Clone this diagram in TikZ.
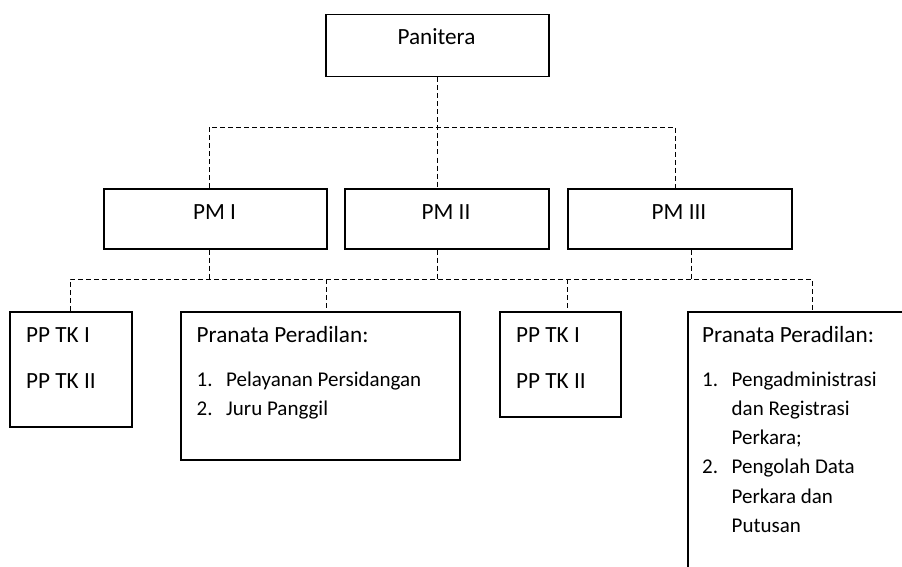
\documentclass[tikz,border=0pt]{standalone}
\usepackage{fontspec}
\setmainfont{Carlito}
\usetikzlibrary{positioning}

\tikzset{
  unit/.style={draw, line width=1.5pt, anchor=north west, inner sep=0pt},
  link/.style={line width=0.9pt, dash pattern=on 5pt off 3pt},
  lbl/.style={anchor=base west, inner sep=0pt, font=\fontsize{23.2}{28}\selectfont},
  item/.style={lbl, font=\fontsize{21}{26}\selectfont},
}

\begin{document}
\begin{tikzpicture}[x=1pt, y=-1pt]
\useasboundingbox (0,0) rectangle (902,567);
% boxes
\node[unit, minimum width=223pt, minimum height=62pt] (pan) at (325,14) {};
\node[unit, minimum width=223pt, minimum height=60pt] (pm1) at (103,188) {};
\node[unit, minimum width=204pt, minimum height=60pt] (pm2) at (344,188) {};
\node[unit, minimum width=224pt, minimum height=60pt] (pm3) at (567,188) {};
\node[unit, minimum width=122pt, minimum height=115pt] (pp1) at (9,311) {};
\node[unit, minimum width=279pt, minimum height=148pt] (pp2) at (180,311) {};
\node[unit, minimum width=121pt, minimum height=105pt] (pp3) at (499,311) {};
\node[unit, minimum width=260pt, minimum height=300pt] (pp4) at (687,311) {};
% labels
\node[lbl, anchor=base] (panT) at (436.5,45) {Panitera};
\node[lbl, anchor=base] (pm1T) at (214.5,219) {PM I};
\node[lbl, anchor=base] (pm2T) at (446,219) {PM II};
\node[lbl, anchor=base] (pm3T) at (679,219) {PM III};
\node[lbl] (pp1a) at (26,342) {PP TK I};
\node[lbl] (pp1b) at (26,388) {PP TK II};
\node[lbl] (pp3a) at (516,342) {PP TK I};
\node[lbl] (pp3b) at (516,388) {PP TK II};
\node[lbl] (pp2T) at (196.5,342) {Pranata Peradilan:};
\node[item] (pp2n1) at (196.5,386) {1.};
\node[item] (pp2i1) at (226,386) {Pelayanan Persidangan};
\node[item] (pp2n2) at (196.5,415) {2.};
\node[item] (pp2i2) at (226,415) {Juru Panggil};
\node[lbl] (pp4T) at (702,342) {Pranata Peradilan:};
\node[item] (pp4n1) at (702,386) {1.};
\node[item] (pp4i1) at (731.5,386) {Pengadministrasi};
\node[item] (pp4i2) at (731.5,415) {dan Registrasi};
\node[item] (pp4i3) at (731.5,444) {Perkara;};
\node[item] (pp4n2) at (702,473.5) {2.};
\node[item] (pp4i4) at (731.5,473.5) {Pengolah Data};
\node[item] (pp4i5) at (731.5,503) {Perkara dan};
\node[item] (pp4i6) at (731.5,532) {Putusan};
% connectors
\coordinate (t1) at (209,127);
\coordinate (t3) at (675,127);
\coordinate (d3) at (691,279);
\coordinate (b1) at (70,279);
\coordinate (b2) at (326,279);
\coordinate (b3) at (567,279);
\coordinate (b4) at (812,279);
\draw[link] (pan.south) -- (pan.south |- pm2.north);
\draw[link] (t1 |- pm1.north) -- (t1) -- (t3) -- (t3 |- pm3.north);
\draw[link] (t1 |- pm1.south) -- (t1 |- b1);
\draw[link] (pan.south |- pm2.south) -- (pan.south |- b1);
\draw[link] (d3 |- pm3.south) -- (d3);
\draw[link] (b1 |- pp1.north) -- (b1) -- (b4) -- (b4 |- pp4.north);
\draw[link] (b2) -- (b2 |- pp2.north);
\draw[link] (b3) -- (b3 |- pp3.north);
\end{tikzpicture}
\end{document}
